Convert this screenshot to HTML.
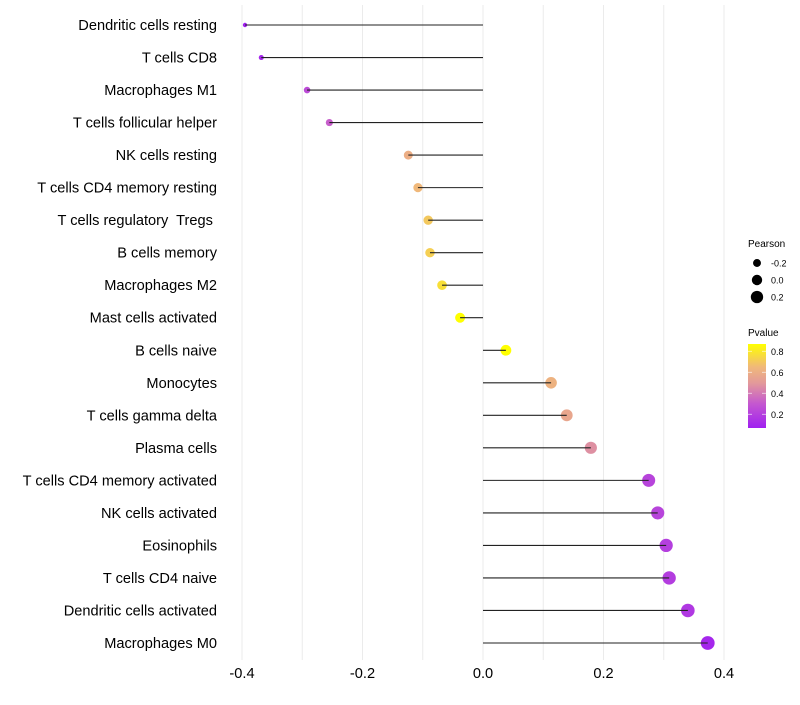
<!DOCTYPE html>
<html><head><meta charset="utf-8"><style>
body{margin:0;background:#fff;font-family:"Liberation Sans",sans-serif}
text{white-space:pre}
</style></head><body>
<svg id="c" width="800" height="700"></svg>
<script>
const categories=["Dendritic cells resting","T cells CD8","Macrophages M1","T cells follicular helper","NK cells resting","T cells CD4 memory resting","T cells regulatory  Tregs ","B cells memory","Macrophages M2","Mast cells activated","B cells naive","Monocytes","T cells gamma delta","Plasma cells","T cells CD4 memory activated","NK cells activated","Eosinophils","T cells CD4 naive","Dendritic cells activated","Macrophages M0"];
const pearson=[-0.395,-0.368,-0.292,-0.255,-0.124,-0.108,-0.091,-0.088,-0.068,-0.038,0.038,0.113,0.139,0.179,0.275,0.290,0.304,0.309,0.340,0.373];
const pvalue=[0.05,0.1,0.25,0.32,0.6,0.65,0.7,0.72,0.77,0.87,0.87,0.62,0.56,0.47,0.22,0.22,0.2,0.19,0.17,0.1];
const xTicks=[-0.4,-0.2,0.0,0.2,0.4];
const xTickLabels=["-0.4","-0.2","0.0","0.2","0.4"];
const gridVals=[-0.4,-0.3,-0.2,-0.1,0,0.1,0.2,0.3,0.4];
const legendPearson=[-0.2,0.0,0.2];
const legendP=[0.8,0.6,0.4,0.2];

const NS="http://www.w3.org/2000/svg";
const svg=document.getElementById('c');
function el(t,a,p){const e=document.createElementNS(NS,t);for(const k in a)e.setAttribute(k,a[k]);(p||svg).appendChild(e);return e;}
const xs=v=>483+v*602.5;
const ys=i=>25+i*(618/19);
const rs=v=>Math.sqrt(Math.max(2.5,27+56*v));
const stops=[[0.07,[160,32,240]],[0.3,[196,87,208]],[0.5,[227,154,154]],[0.65,[240,184,122]],[0.87,[255,255,0]]];
function col(p){if(p<=stops[0][0])return 'rgb('+stops[0][1]+')';
for(let i=1;i<stops.length;i++){if(p<=stops[i][0]){const t=(p-stops[i-1][0])/(stops[i][0]-stops[i-1][0]);const a=stops[i-1][1],b=stops[i][1];return 'rgb('+a.map((c,j)=>Math.round(c+(b[j]-c)*t)).join(',')+')';}}
return 'rgb('+stops[stops.length-1][1]+')';}
const py=p=>428-(p-0.07)/0.8*84;

gridVals.forEach(v=>{const g=el('line',{x1:xs(v),x2:xs(v),y1:5,y2:660,stroke:'#ebebeb','stroke-width':1});

});
xTicks.forEach((v,i)=>{const t=el('text',{x:xs(v),y:678,'text-anchor':'middle','font-size':14.6,fill:'#000'});t.textContent=xTickLabels[i];

});
categories.forEach((c,i)=>{const y=ys(i);
const t=el('text',{x:217,y:y+5,'text-anchor':'end','font-size':14.6,fill:'#000'});t.textContent=c;


const d=el('circle',{cx:xs(pearson[i]),cy:y,r:rs(pearson[i]),fill:col(pvalue[i])});


const l=el('line',{x1:xs(0),x2:xs(pearson[i]),y1:y,y2:y,stroke:'#222','stroke-width':1.1});

});
const lt=el('text',{x:748,y:247,'font-size':10});lt.textContent='Pearson';


legendPearson.forEach((v,i)=>{const y=263+i*17;
const c=el('circle',{cx:757,cy:y,r:rs(v),fill:'#000'});


const t=el('text',{x:771,y:y+3.5,'font-size':9});t.textContent=v.toFixed(1);

});
const pt=el('text',{x:748,y:336,'font-size':10});pt.textContent='Pvalue';


const defs=el('defs',{});const lg=el('linearGradient',{id:'g',x1:0,y1:1,x2:0,y2:0},defs);
stops.forEach(s=>el('stop',{offset:((s[0]-0.07)/0.8),'stop-color':'rgb('+s[1]+')'},lg));
const cb=el('rect',{x:748,y:344,width:18,height:84,fill:'url(#g)'});


legendP.forEach(v=>{const y=py(v);
el('line',{x1:748,x2:752,y1:y,y2:y,stroke:'#fff','stroke-opacity':0.6});
el('line',{x1:762,x2:766,y1:y,y2:y,stroke:'#fff','stroke-opacity':0.6});
const t=el('text',{x:771,y:y+3.5,'font-size':9});t.textContent=v.toFixed(1);

});
</script>
</body></html>
